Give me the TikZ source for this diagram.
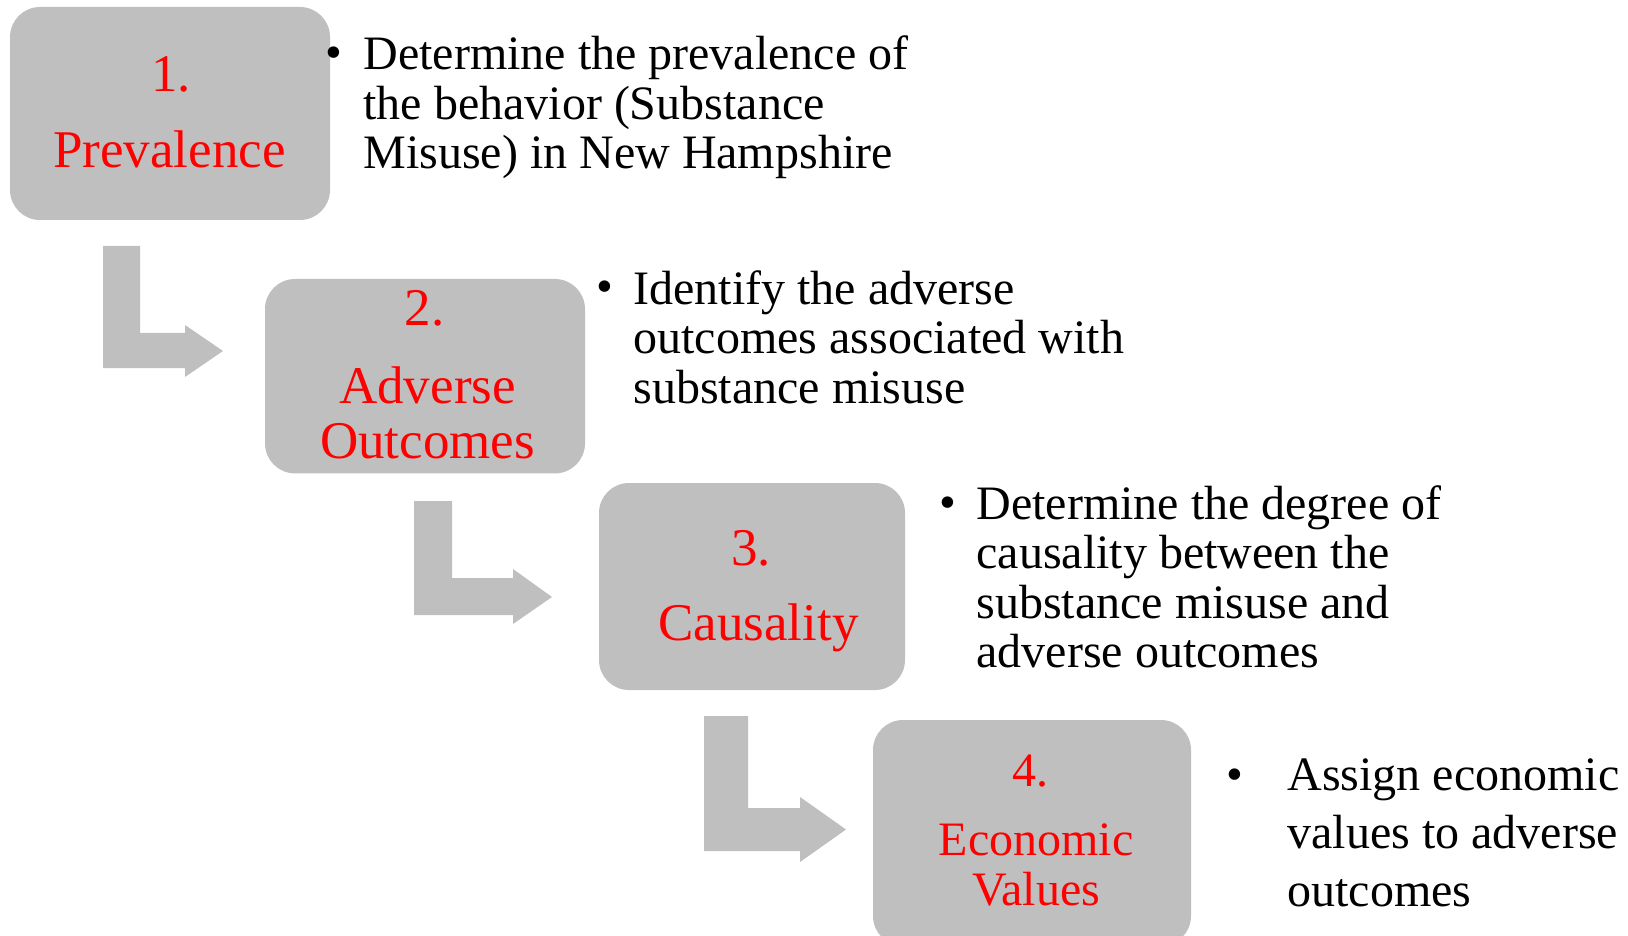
\documentclass[tikz,border=0pt]{standalone}
\usepackage{fontspec}
\setmainfont{Liberation Serif}
\definecolor{stagegray}{HTML}{BFBFBF}
\definecolor{stagered}{HTML}{FF0000}

\tikzset{
  stage/.style={fill=stagegray, rounded corners=15pt, inner sep=0pt},
  stagenum/.style={text=stagered, inner sep=0pt, anchor=base},
  stagetitle/.style={text=stagered, inner sep=0pt, align=center},
  bulletdot/.style={inner sep=0pt, anchor=base, font=\fontsize{24}{24.75}\selectfont},
  bullettext/.style={inner sep=0pt, anchor=north west, align=left},
  bendarrow/.style={fill=stagegray},
}

\begin{document}
\begin{tikzpicture}[x=0.5pt, y=-0.5pt]
    \useasboundingbox (0,0) rectangle (1628,936);

    % stage boxes
    \node[stage, minimum width=160pt, minimum height=106.5pt] (prev) at (170,113.5) {};
    \node[stage, minimum width=160pt, minimum height=97.2pt] (adv) at (425,376.2) {};
    \node[stage, minimum width=153pt, minimum height=103.5pt] (caus) at (752,586.5) {};
    \node[stage, minimum width=159pt, minimum height=113pt] (econ) at (1032,833) {};

    % bent arrows between the stages
    \fill[bendarrow] (103,246) -- (140,246) -- (140,333) -- (185,333) -- (185,325)
      -- (223,351) -- (185,377) -- (185,368) -- (103,368) -- cycle;
    \fill[bendarrow] (414,501) -- (452,501) -- (452,578) -- (513,578) -- (513,569)
      -- (552,597) -- (513,624) -- (513,615) -- (414,615) -- cycle;
    \fill[bendarrow] (704,716) -- (748,716) -- (748,808) -- (800,808) -- (800,797)
      -- (846,829.5) -- (800,862) -- (800,851) -- (704,851) -- cycle;

    % stage labels
    \begin{scope}[font=\fontsize{26.5}{27.5}\selectfont]
      \node[stagenum] (prevnum) at (171,91.7) {1.};
      \node[stagenum] (prevtitle) at (169.5,167.7) {Prevalence};
      \node[stagenum] (advnum) at (424.7,326) {2.};
      \node[stagetitle, anchor=north] (advtitle) at (427.5,366.5) {Adverse\\Outcomes};
      \node[stagenum] (causnum) at (751,565) {3.};
      \node[stagenum] (caustitle) at (758.5,640.5) {Causality};
    \end{scope}
    \begin{scope}[font=\fontsize{24}{25}\selectfont]
      \node[stagenum] (econnum) at (1030.5,786) {4.};
      \node[stagetitle, anchor=north] (econtitle) at (1036,823) {Economic\\Values};
    \end{scope}

    % descriptions
    \node[bulletdot] (dotprev) at (334,68.3) {•};
    \node[bullettext, font=\fontsize{24}{24.75}\selectfont] (txtprev) at (363,35.5)
      {Determine the prevalence of\\the behavior (Substance\\Misuse) in New Hampshire};
    \node[bulletdot] (dotadv) at (605,303) {•};
    \node[bullettext, font=\fontsize{24}{24.75}\selectfont] (txtadv) at (633,270.2)
      {Identify the adverse\\outcomes associated with\\substance misuse};
    \node[bulletdot] (dotcaus) at (948,518) {•};
    \node[bullettext, font=\fontsize{24}{24.75}\selectfont] (txtcaus) at (976,485.2)
      {Determine the degree of\\causality between the\\substance misuse and\\adverse outcomes};
    \node[bulletdot] (dotecon) at (1235,790) {•};
    \node[bullettext, font=\fontsize{24}{29}\selectfont] (txtecon) at (1287,758.5)
      {Assign economic\\values to adverse\\outcomes};
  \end{tikzpicture}
\end{document}
